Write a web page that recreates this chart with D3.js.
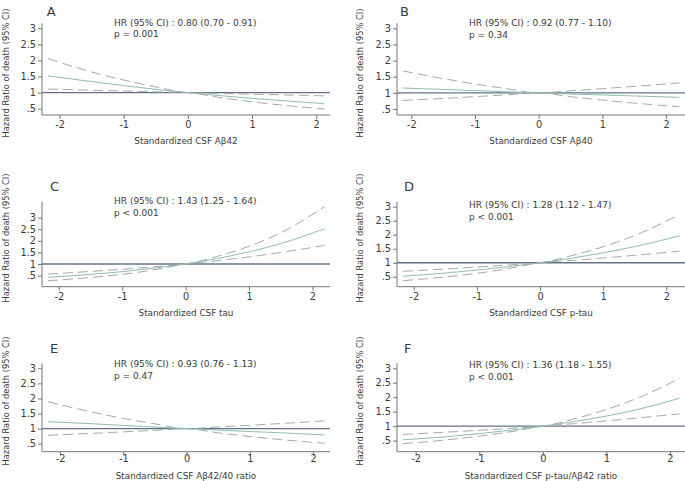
<!DOCTYPE html>
<html><head><meta charset="utf-8">
<script src="https://cdn.jsdelivr.net/npm/d3@7"></script>
<style>
html,body{margin:0;padding:0;background:#fff;}
svg{display:block;}
text{font-family:"DejaVu Sans",Verdana,sans-serif;fill:#3a3a3a;}
</style></head>
<body>
<svg id="chart" width="685" height="481"></svg>
<script>
// ---- data ----
const panelLetters = ["A", "B", "C", "D", "E", "F"];
const hrTexts = [
  "HR (95% CI) : 0.80 (0.70 - 0.91)",
  "HR (95% CI) : 0.92 (0.77 - 1.10)",
  "HR (95% CI) : 1.43 (1.25 - 1.64)",
  "HR (95% CI) : 1.28 (1.12 - 1.47)",
  "HR (95% CI) : 0.93 (0.76 - 1.13)",
  "HR (95% CI) : 1.36 (1.18 - 1.55)"
];
const pTexts = ["p = 0.001", "p = 0.34", "p < 0.001", "p < 0.001", "p = 0.47", "p < 0.001"];
const xTitles = [
  "Standardized CSF Aβ42",
  "Standardized CSF Aβ40",
  "Standardized CSF tau",
  "Standardized CSF p-tau",
  "Standardized CSF Aβ42/40 ratio",
  "Standardized CSF p-tau/Aβ42 ratio"
];
const yTitle = "Hazard Ratio of death (95% CI)";
const yTicks = [0.5, 1, 1.5, 2, 2.5, 3];
const yTickLabels = [".5", "1", "1.5", "2", "2.5", "3"];
const xTicks = [-2, -1, 0, 1, 2];
const xTickLabels = ["-2", "-1", "0", "1", "2"];

// x values of the sampled points for each panel
const xA = [-2.18, -1.5, -1, -0.5, 0, 0.5, 1, 1.5, 2.13];
const xB = [-2.13, -1.5, -1, -0.5, 0, 0.5, 1, 1.5, 2.21];
const xC = [-2.17, -1.5, -1, -0.5, 0, 0.5, 1, 1.5, 2.19];
const xD = [-2.17, -1.5, -1, -0.5, 0, 0.5, 1, 1.5, 2.21];
const xE = [-2.19, -1.5, -1, -0.5, 0, 0.5, 1, 1.5, 2.18];
const xF = [-2.20, -1.5, -1, -0.5, 0, 0.5, 1, 1.5, 2.15];

// hazard ratio (centre) and 95% CI bounds
const hrA = [1.52, 1.342, 1.217, 1.103, 1, 0.906, 0.822, 0.745, 0.655];
const upA = [2.06, 1.640, 1.391, 1.179, 1, 0.975, 0.951, 0.928, 0.90];
const loA = [1.11, 1.075, 1.049, 1.024, 1, 0.846, 0.715, 0.605, 0.49];

const hrB = [1.15, 1.106, 1.069, 1.034, 1, 0.967, 0.935, 0.904, 0.86];
const upB = [1.68, 1.442, 1.276, 1.130, 1, 1.063, 1.130, 1.201, 1.31];
const loB = [0.765, 0.828, 0.882, 0.939, 1, 0.881, 0.776, 0.683, 0.57];

const hrC = [0.425, 0.55, 0.67, 0.82, 1, 1.235, 1.525, 1.88, 2.52];
const upC = [0.57, 0.678, 0.772, 0.879, 1, 1.328, 1.765, 2.344, 3.47];
const loC = [0.28, 0.415, 0.556, 0.746, 1, 1.143, 1.307, 1.495, 1.80];

const hrD = [0.518, 0.634, 0.738, 0.859, 1, 1.164, 1.355, 1.577, 1.957];
const upD = [0.695, 0.777, 0.845, 0.919, 1, 1.254, 1.571, 1.970, 2.716];
const loD = [0.36, 0.494, 0.625, 0.791, 1, 1.082, 1.170, 1.266, 1.415];

const hrE = [1.23, 1.162, 1.105, 1.051, 1, 0.951, 0.905, 0.861, 0.79];
const upE = [1.894, 1.550, 1.339, 1.157, 1, 1.053, 1.110, 1.169, 1.255];
const loE = [0.78, 0.844, 0.893, 0.945, 1, 0.859, 0.738, 0.634, 0.516];

const hrF = [0.53, 0.638, 0.741, 0.861, 1, 1.162, 1.35, 1.58, 1.965];
const upF = [0.714, 0.795, 0.858, 0.926, 1, 1.255, 1.575, 1.976, 2.655];
const loF = [0.393, 0.529, 0.654, 0.809, 1, 1.087, 1.181, 1.283, 1.428];

const refValue = 1;

// ---- assemble panels ----
const panelData = [
  {x: xA, hr: hrA, up: upA, lo: loA},
  {x: xB, hr: hrB, up: upB, lo: loB},
  {x: xC, hr: hrC, up: upC, lo: loC},
  {x: xD, hr: hrD, up: upD, lo: loD},
  {x: xE, hr: hrE, up: upE, lo: loE},
  {x: xF, hr: hrF, up: upF, lo: loF}
];

// ---- layout ----
const colAxisX = [42, 397];
const colRight = [330, 685];
const rowTop = [23.3, 201.7, 363.3];
const rowBottom = [115, 286.7, 451.7];
const rowPadBottom = [6, 6, 8];
const rowLetterY = [[16, 15.5], [190.5, 190.5], [352.7, 352.7]];
const rowHrY = [[25.7, 26], [204.3, 208], [367.3, 368.3]];
const rowTickLabelY = [128, 300, 461.7];
const rowXTitleY = [144, 316, 479];
const rowYTitleCenter = [73, 238, 401];
const colYTitleX = [8.5, 362.5];
const colLetterX = [[46.7, 400], [50, 404], [50, 404]];

const svg = d3.select("#chart");
const COL_CENTER = "#8fbdb1";
const COL_DASH = "#a8a8a8";
const COL_REF = "#66708a";
const COL_AXIS = "#777777";

panelData.forEach((d, i) => {
  const col = i % 2, row = Math.floor(i / 2);
  const ax = colAxisX[col], right = colRight[col];
  const top = rowTop[row], bottom = rowBottom[row];
  const g = svg.append("g");

  const xs = d3.scaleLinear().domain(d3.extent(d.x)).range([ax + 6, right - 5.5]);
  const yMin = Math.min(d3.min(d.lo), d3.min(yTicks));
  const yMax = Math.max(d3.max(d.up), d3.max(yTicks));
  const ys = d3.scaleLinear().domain([yMin, yMax]).range([bottom - rowPadBottom[row], top + 5]);

  // reference line at HR = 1
  g.append("line")
    .attr("x1", ax).attr("x2", right)
    .attr("y1", ys(refValue)).attr("y2", ys(refValue))
    .attr("stroke", COL_REF).attr("stroke-width", 1.3);

  const pts = (arr) => d.x.map((xv, k) => [xv, arr[k]]);
  const line = d3.line().x(p => xs(p[0])).y(p => ys(p[1])).curve(d3.curveMonotoneX);

  [d.up, d.lo].forEach(arr => {
    g.append("path").attr("d", line(pts(arr)))
      .attr("fill", "none").attr("stroke", COL_DASH)
      .attr("stroke-width", 1).attr("stroke-dasharray", "10,5");
  });
  g.append("path").attr("d", line(pts(d.hr)))
    .attr("fill", "none").attr("stroke", COL_CENTER).attr("stroke-width", 1);

  // y axis
  const yAxis = d3.axisLeft(ys).tickValues(yTicks)
    .tickFormat((v, k) => yTickLabels[k]).tickSize(4).tickPadding(2).tickSizeOuter(0);
  const yg = g.append("g").attr("transform", `translate(${ax},0)`).call(yAxis);
  yg.select(".domain").attr("d", `M0,${top}V${bottom}`);
  // x axis
  const xAxis = d3.axisBottom(xs).tickValues(xTicks)
    .tickFormat((v, k) => xTickLabels[k]).tickSize(4).tickSizeOuter(0);
  const xg = g.append("g").attr("transform", `translate(0,${bottom})`).call(xAxis);
  xg.select(".domain").attr("d", `M${ax},0H${right}`);

  [yg, xg].forEach(a => {
    a.selectAll(".domain").attr("stroke", COL_AXIS).attr("stroke-width", 1);
    a.selectAll(".tick line").attr("stroke", COL_AXIS);
    a.selectAll(".tick text").attr("fill", "#3a3a3a").style("font-family", '"DejaVu Sans",Verdana,sans-serif')
      .attr("font-size", 9.8);
  });
  xg.selectAll(".tick text").attr("y", null).attr("dy", null)
    .attr("y", rowTickLabelY[row] - bottom);

  // y title
  g.append("text")
    .attr("transform", `translate(${colYTitleX[col]},${rowYTitleCenter[row]}) rotate(-90)`)
    .attr("text-anchor", "middle").attr("font-size", 8.3).text(yTitle);
  // x title
  g.append("text").attr("x", (ax + right) / 2).attr("y", rowXTitleY[row])
    .attr("text-anchor", "middle").attr("font-size", 8.8).text(xTitles[i]);
  // panel letter
  g.append("text").attr("x", colLetterX[row][col]).attr("y", rowLetterY[row][col])
    .attr("font-size", 13).text(panelLetters[i]);
  // HR and p text
  g.append("text").attr("x", ax + 72).attr("y", rowHrY[row][col])
    .attr("font-size", 9).text(hrTexts[i]);
  g.append("text").attr("x", ax + 72).attr("y", rowHrY[row][col] + 11.5)
    .attr("font-size", 9).text(pTexts[i]);
});
</script>
</body></html>
